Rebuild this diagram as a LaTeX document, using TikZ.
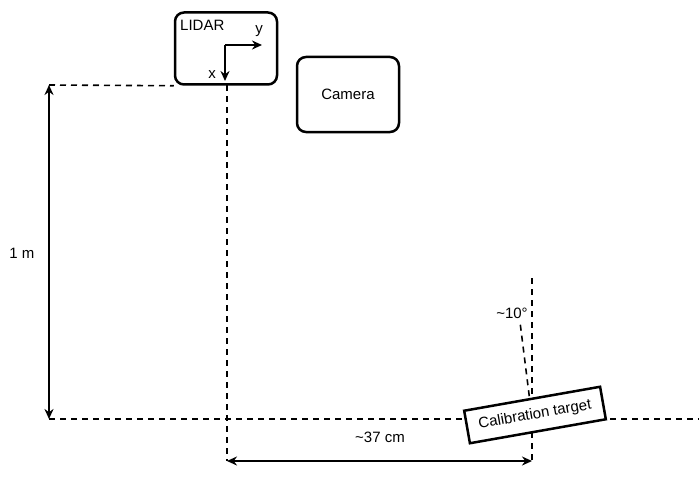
\documentclass[tikz,border=0pt]{standalone}
\usepackage{fontspec}
\setmainfont{Liberation Sans}
\usetikzlibrary{arrows.meta}
\begin{document}
\begin{tikzpicture}[x=1pt,y=-1pt,
  every node/.style={font=\fontsize{15}{17}\selectfont},
  box/.style={draw,line width=2.5pt,rounded corners=9pt,inner sep=0pt},
  dline/.style={line width=1.6pt,dash pattern=on 6pt off 5pt},
  dim/.style={line width=2pt,{Stealth[length=10pt,width=9pt]}-{Stealth[length=10pt,width=9pt]}},
  ax/.style={line width=2pt,-{Stealth[length=10pt,width=9pt]}},
  lbl/.style={inner sep=1pt}]
\useasboundingbox (0,0) rectangle (699,487);
% boxes
\node[box,minimum width=102pt,minimum height=72pt] (lidar) at (226,48.5) {};
\node[box,minimum width=102pt,minimum height=75pt] (camera) at (348,94.5) {Camera};
\node[lbl,anchor=west] (lidarlbl) at (179,25) {LIDAR};
% LIDAR axes
\coordinate (o) at (225,45);
\coordinate (ye) at (262,45);
\coordinate (xe) at (225,81);
\draw[ax] (o) -- (ye);
\draw[ax] (o) -- (xe);
\node[lbl] (ylbl) at (259,31) {y};
\node[lbl] (xlbl) at (212,75) {x};
% reference coordinates
\coordinate (tl) at (49,85);
\coordinate (bl) at (49,419);
\coordinate (br) at (699,419);
\coordinate (lv) at (227,85);
\coordinate (lvb) at (227,461);
\coordinate (tv) at (532,278);
\coordinate (tvb) at (532,461);
\coordinate (tc) at (532,418);
\coordinate (tilt) at (520,322);
% dashed lines
\draw[dline] (tl) -- (lidar.south west);
\draw[dline] (lv) -- (lvb);
\draw[dline] (bl) -- (br);
\draw[dline] (tv) -- (tvb);
\draw[dline] (tc) -- (tilt);
% calibration target
\node[draw,fill=white,line width=2.5pt,rotate=10,minimum width=138pt,minimum height=33pt,inner sep=0pt] (target) at (535,415) {Calibration target};
% dimensions
\draw[dim] (tl) -- (bl);
\draw[dim] (lvb) -- (tvb);
\node[lbl] (m) at (22,253) {1 m};
\node[lbl] (cm) at (380,437) {\textasciitilde37 cm};
\node[lbl] (ang) at (512,313) {\textasciitilde10°};
\end{tikzpicture}
\end{document}
